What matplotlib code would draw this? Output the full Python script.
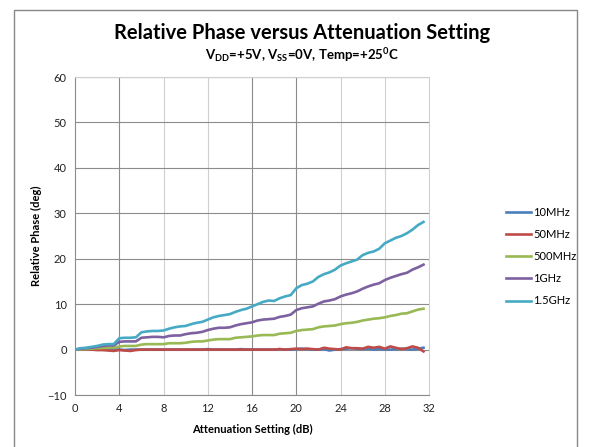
import matplotlib
matplotlib.use('Agg')
import matplotlib.pyplot as plt
import numpy as np
from matplotlib.patches import Rectangle

plt.rcParams['font.family'] = ['Lato', 'DejaVu Sans']
plt.rcParams['mathtext.default'] = 'regular'

# attenuation settings, 0.5 dB steps
atten = np.arange(0, 32, 0.5)

ph_10m = [0.0, 0.0, 0.1, 0.0, 0.1, 0.1, 0.0, 0.0, 0.0, -0.1, 0.0, 0.0, 0.0, 0.0, 0.0, 0.0,
          0.0, 0.0, 0.0, 0.0, 0.0, 0.0, 0.0, 0.0, 0.1, 0.0, 0.0, 0.0, 0.0, 0.0, 0.1, 0.0,
          0.0, 0.0, 0.0, 0.0, 0.0, 0.1, 0.0, 0.0, 0.1, 0.2, 0.1, 0.0, 0.0, 0.1, -0.2, 0.0,
          0.1, 0.2, 0.3, 0.2, 0.1, 0.2, 0.0, 0.1, 0.0, 0.0, 0.1, 0.2, 0.1, 0.0, 0.2, 0.4]
ph_50m = [0.0, 0.0, 0.0, 0.0, -0.1, -0.1, -0.2, -0.3, -0.1, -0.2, -0.3, -0.1, 0.0, 0.0, 0.0, 0.0,
          0.0, 0.0, 0.0, 0.0, 0.0, 0.0, 0.0, 0.0, 0.0, 0.0, 0.0, 0.0, 0.0, 0.0, 0.0, 0.0,
          0.0, 0.0, 0.0, 0.0, 0.0, 0.1, 0.0, 0.1, 0.2, 0.1, 0.2, 0.1, 0.0, 0.4, 0.2, 0.1,
          0.0, 0.5, 0.3, 0.3, 0.2, 0.6, 0.4, 0.6, 0.2, 0.7, 0.4, 0.1, 0.3, 0.7, 0.4, -0.4]
ph_500m = [0.0, 0.05, 0.1, 0.2, 0.3, 0.35, 0.4, 0.4, 0.7, 0.8, 0.8, 0.8, 1.1, 1.2, 1.2, 1.2,
           1.2, 1.4, 1.4, 1.4, 1.5, 1.7, 1.8, 1.8, 2.0, 2.2, 2.3, 2.3, 2.3, 2.6, 2.7, 2.8,
           2.9, 3.1, 3.2, 3.2, 3.2, 3.5, 3.6, 3.7, 4.1, 4.3, 4.4, 4.5, 4.9, 5.1, 5.2, 5.3,
           5.6, 5.8, 5.9, 6.1, 6.4, 6.6, 6.8, 6.9, 7.1, 7.4, 7.6, 7.9, 8.0, 8.4, 8.8, 9.0]
ph_1g = [0.0, 0.2, 0.3, 0.4, 0.6, 0.8, 0.9, 0.9, 1.7, 1.8, 1.8, 1.8, 2.6, 2.7, 2.8, 2.8,
         2.7, 3.0, 3.1, 3.1, 3.4, 3.6, 3.7, 3.9, 4.3, 4.6, 4.8, 4.8, 4.9, 5.3, 5.6, 5.8,
         6.0, 6.4, 6.6, 6.7, 6.8, 7.2, 7.4, 7.7, 8.7, 9.1, 9.3, 9.5, 10.1, 10.6, 10.8, 11.1,
         11.7, 12.1, 12.4, 12.8, 13.4, 13.9, 14.3, 14.6, 15.3, 15.8, 16.2, 16.6, 16.9, 17.6, 18.1, 18.7]
ph_15g = [0.0, 0.3, 0.4, 0.6, 0.8, 1.1, 1.2, 1.2, 2.5, 2.6, 2.6, 2.7, 3.8, 4.0, 4.1, 4.1,
          4.2, 4.6, 4.9, 5.1, 5.2, 5.6, 5.9, 6.1, 6.6, 7.1, 7.4, 7.6, 7.8, 8.3, 8.7, 9.0,
          9.5, 10.0, 10.5, 10.8, 10.7, 11.3, 11.7, 12.0, 13.5, 14.2, 14.5, 15.0, 16.0, 16.6, 17.0, 17.6,
          18.5, 19.0, 19.4, 19.8, 20.8, 21.3, 21.6, 22.2, 23.4, 24.0, 24.6, 25.0, 25.6, 26.4, 27.4, 28.1]

labels = ['10MHz', '50MHz', '500MHz', '1GHz', '1.5GHz']
colors = ['#4A7EBB', '#BE4B48', '#98B954', '#7D60A0', '#46AAC5']
series = [ph_10m, ph_50m, ph_500m, ph_1g, ph_15g]

fig = plt.figure(figsize=(5.93, 4.47), dpi=100)
ax = fig.add_axes([0.1265, 0.1163, 0.597, 0.7114])

# chart border
fig.patches.append(Rectangle((14/593, -0.01), 563/593, 1 - 10/447 + 0.01,
                             transform=fig.transFigure, fill=False,
                             edgecolor='#888888', linewidth=1.0))

for y, lab, c in zip(series, labels, colors):
    ax.plot(atten, y, color=c, linewidth=1.9, label=lab)

ax.set_xlim(0, 32)
ax.set_ylim(-10, 60)
ax.set_xticks(range(0, 33, 4))
ax.set_yticks(range(-10, 61, 10))
ax.yaxis.grid(True, color='#8c8c8c', linewidth=0.8)
for xv in range(4, 32, 4):
    ax.axvline(xv, color='#8c8c8c' if xv in (4, 16, 20) else '#d0d0d0',
               linewidth=0.8, zorder=0)
ax.set_axisbelow(True)
for side in ['top', 'right']:
    ax.spines[side].set_color('#d0d0d0')
for side in ['left', 'bottom']:
    ax.spines[side].set_color('#8c8c8c')
ax.tick_params(length=0, labelsize=8, colors='#222222', pad=6)

ax.set_xlabel('Attenuation Setting (dB)', fontsize=8, fontweight='bold', labelpad=7)
ax.set_ylabel('Relative Phase (deg)', fontsize=8, fontweight='bold', labelpad=4)

fig.text(0.509, 0.926, 'Relative Phase versus Attenuation Setting', ha='center',
         va='center', fontsize=14.5, fontweight='bold')
fig.text(0.509, 0.876, r'V$_{DD}$=+5V, V$_{SS}$=0V, Temp=+25$^{0}$C', ha='center',
         va='center', fontsize=9.5, fontweight='bold')

ax.legend(loc='center left', bbox_to_anchor=(1.19, 0.435), frameon=False,
          fontsize=8, handlelength=2.2, labelspacing=1.0, handletextpad=0.25)

fig.savefig('out.png', dpi=100)
